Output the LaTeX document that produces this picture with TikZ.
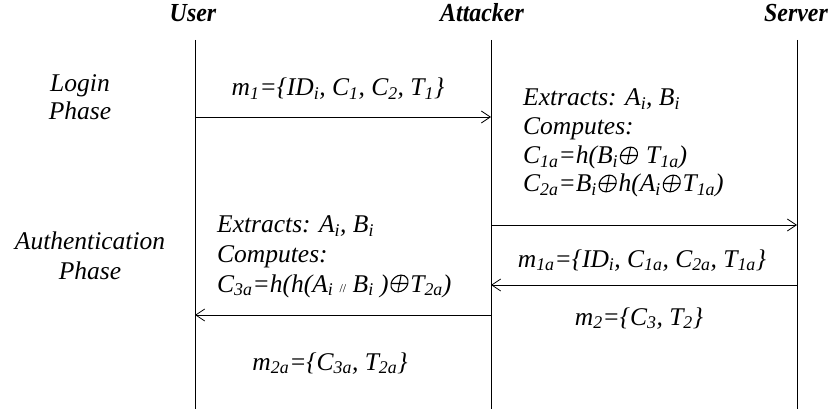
\documentclass[tikz,border=0pt]{standalone}
\usepackage{fontspec}
\setmainfont{Liberation Serif}
\newfontfamily\bodyfont{Liberation Serif}
\newfontfamily\hdrfont[FakeStretch=0.92]{Liberation Serif}
\usetikzlibrary{arrows.meta}
\newcommand{\sbs}[1]{\textsubscript{#1}}
\newcommand{\xo}{\kern1pt\tikz[baseline=0pt,x=1pt,y=1pt,line width=1.1pt]{\draw[xslant=0.2] (9,8.5) circle[radius=8.4]; \draw[xslant=0.2] (0.6,8.5)--(17.4,8.5) (9,0.1)--(9,16.9);}\kern1pt}
\tikzset{
  txt/.style={font=\bodyfont\itshape\fontsize{25.5}{28}\selectfont, inner sep=0pt},
  hdr/.style={font=\hdrfont\bfseries\itshape\fontsize{26}{28}\selectfont, inner sep=0pt, anchor=base},
  life/.style={line width=0.8pt},
  msg/.style={line width=0.8pt, -{Straight Barb[length=9pt,width=12pt]}}
}
\begin{document}
\begin{tikzpicture}[x=1pt,y=-1pt]
\useasboundingbox (0,0) rectangle (828,409);
% headers
\node[hdr] (hu) at (193,22) {User};
\node[hdr] (ha) at (482,22) {Attacker};
\node[hdr] (hs) at (796,22) {Server};
% lifelines
\coordinate (ut) at (195,40); \coordinate (ub) at (195,409);
\coordinate (at) at (491,40); \coordinate (ab) at (491,409);
\coordinate (st) at (797,40); \coordinate (sb) at (797,409);
\draw[life] (ut) -- (ub);
\draw[life] (at) -- (ab);
\draw[life] (st) -- (sb);
% phases
\node[txt, anchor=base] (l1) at (80,92) {Login};
\node[txt, anchor=base] (l2) at (80,120) {Phase};
\node[txt, anchor=base] (a1) at (90,249) {Authentication};
\node[txt, anchor=base] (a2) at (90,279) {Phase};
% message 1
\node[txt, anchor=base] (m1) at (338,96) {m\sbs{1}=\{ID\sbs{i}, C\sbs{1}, C\sbs{2}, T\sbs{1}\}};
\coordinate (m1s) at (195,117); \coordinate (m1e) at (491,117);
\draw[msg] (m1s) -- (m1e);
% attacker computations
\node[txt, anchor=base west] (e1) at (523,106) {Extracts: A\sbs{i}, B\sbs{i}};
\node[txt, anchor=base west] (e2) at (523,135) {Computes:};
\node[txt, anchor=base west] (e3) at (523,164) {C\sbs{1a}=h(B\sbs{i}\xo\ T\sbs{1a})};
\node[txt, anchor=base west] (e4) at (523,192) {C\sbs{2a}=B\sbs{i}\xo h(A\sbs{i}\xo T\sbs{1a})};
\coordinate (x1s) at (491,225); \coordinate (x1e) at (797,225);
\draw[msg] (x1s) -- (x1e);
% server reply
\node[txt, anchor=base] (m1a) at (642,267) {m\sbs{1a}=\{ID\sbs{i}, C\sbs{1a}, C\sbs{2a}, T\sbs{1a}\}};
\coordinate (x2s) at (797,285); \coordinate (x2e) at (491,285);
\draw[msg] (x2s) -- (x2e);
\node[txt, anchor=base] (m2) at (639,325) {m\sbs{2}=\{C\sbs{3}, T\sbs{2}\}};
% user side computations by attacker
\node[txt, anchor=base west] (f1) at (217,233) {Extracts: A\sbs{i}, B\sbs{i}};
\node[txt, anchor=base west] (f2) at (217,262) {Computes:};
\node[txt, anchor=base west] (f3) at (217,292) {C\sbs{3a}=h(h(A\sbs{i} {\upshape\fontsize{12}{12}\selectfont//} B\sbs{i} )\xo T\sbs{2a})};
\coordinate (x3s) at (491,315); \coordinate (x3e) at (195,315);
\draw[msg] (x3s) -- (x3e);
\node[txt, anchor=base] (m2a) at (330,370) {m\sbs{2a}=\{C\sbs{3a}, T\sbs{2a}\}};
\end{tikzpicture}
\end{document}
